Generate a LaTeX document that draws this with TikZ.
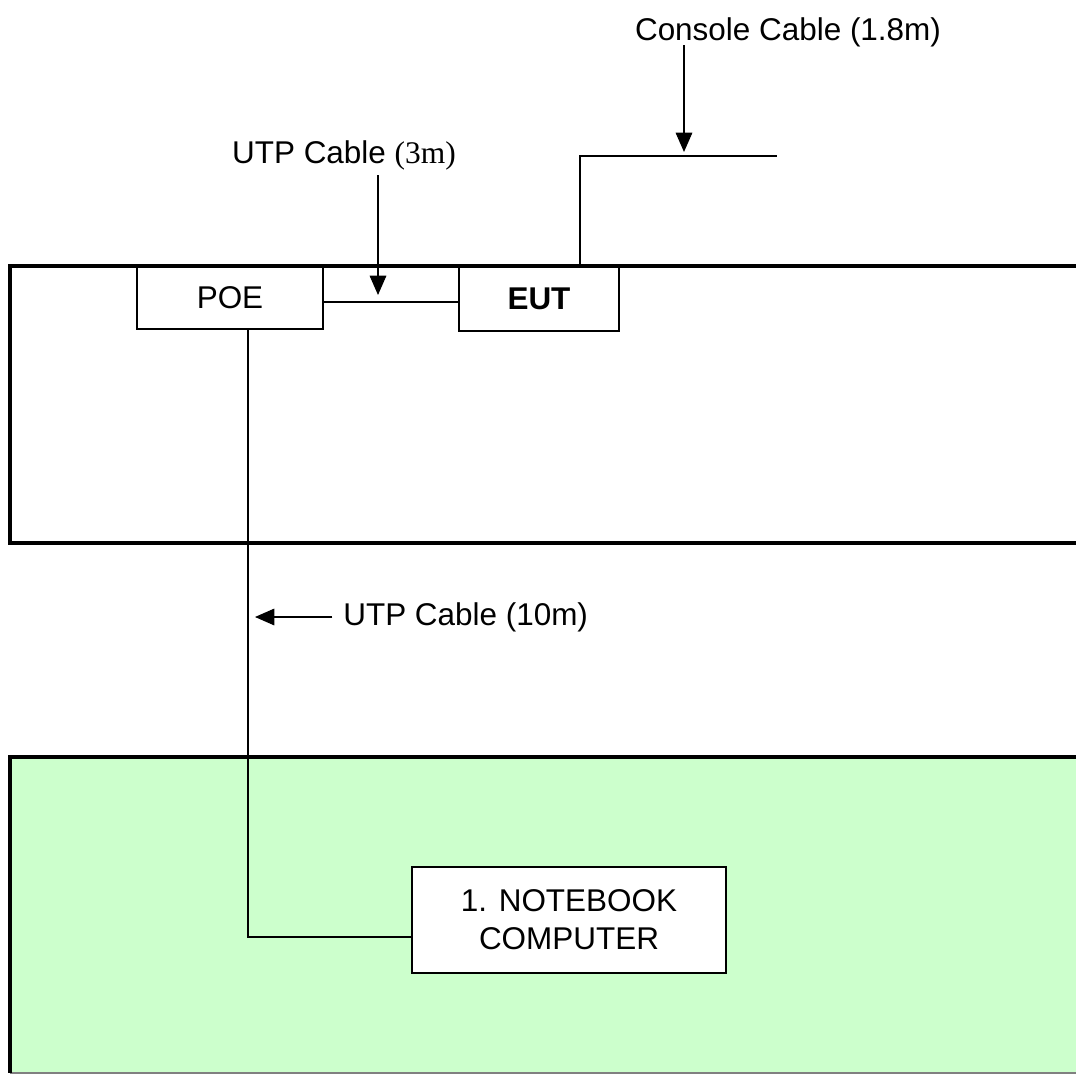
\documentclass[tikz,border=0pt]{standalone}
\usepackage{fontspec}
\setmainfont{Liberation Sans}
\newfontfamily\serifnum{Liberation Serif}
\usetikzlibrary{arrows.meta,positioning,calc}
\definecolor{labgreen}{HTML}{CCFFCC}

\begin{document}
\begin{tikzpicture}[x=0.02cm,y=-0.02cm,
    font=\fontsize{17.9}{21.5}\selectfont,
    unit/.style={draw,line width=0.8pt,fill=white,align=center,inner sep=0pt},
    wire/.style={line width=0.6pt},
    wall/.style={line width=2.5pt},
    ptr/.style={line width=0.6pt,-{Triangle[length=11pt,width=9.5pt]}}]
  \useasboundingbox (0,0) rectangle (1076,1075);
  \clip (0,0) rectangle (1076,1075);
  \fill[labgreen] (10,757) rectangle (1100,1073);
  \draw[gray,line width=0.6pt] (10,1073) -- (1100,1073);

  \node[unit,minimum width=3.72cm,minimum height=1.24cm] (poe) at (230,298) {POE};
  \node[unit,minimum width=3.2cm,minimum height=1.28cm,font=\fontsize{17.9}{21.5}\selectfont\bfseries] (eut) at (539,299) {EUT};
  \node[unit,minimum width=6.28cm,minimum height=2.12cm] (nb) at (569,920) {1. NOTEBOOK\\COMPUTER};

  \coordinate (uwire) at (378,302);
  \coordinate (pbend) at (248,937);
  \coordinate (cbend) at (580,156);
  \coordinate (cend) at (777,156);
  \draw[wire] (poe.east |- uwire) -- (eut.west |- uwire);
  \draw[wire] (pbend |- poe.south) -- (pbend) -- (pbend -| nb.west);
  \draw[wire] (cbend |- eut.north) -- (cbend) -- (cend);

  \draw[wall] (1100,266) -- (10,266) -- (10,543) -- (1100,543);
  \draw[wall] (1100,757) -- (10,757) -- (10,1073);

  \node[anchor=base] (lconsole) at (788,40) {Console Cable (1.8m)};
  \node[anchor=base] (lutpa) at (344,163) {UTP Cable {\serifnum(3m)}};
  \node[anchor=west,inner sep=0pt] (lutpb) at (343,617) {UTP Cable (10m)};

  \coordinate (ca) at (684,45);
  \coordinate (ua) at (378,175);
  \draw[ptr,shorten >=2.3pt] (ca) -- (ca |- cend);
  \draw[ptr,shorten >=4pt] (ua) -- (uwire);
  \draw[ptr,shorten >=4pt] ([xshift=-6pt]lutpb.west) -- (pbend |- lutpb.west);
\end{tikzpicture}
\end{document}
